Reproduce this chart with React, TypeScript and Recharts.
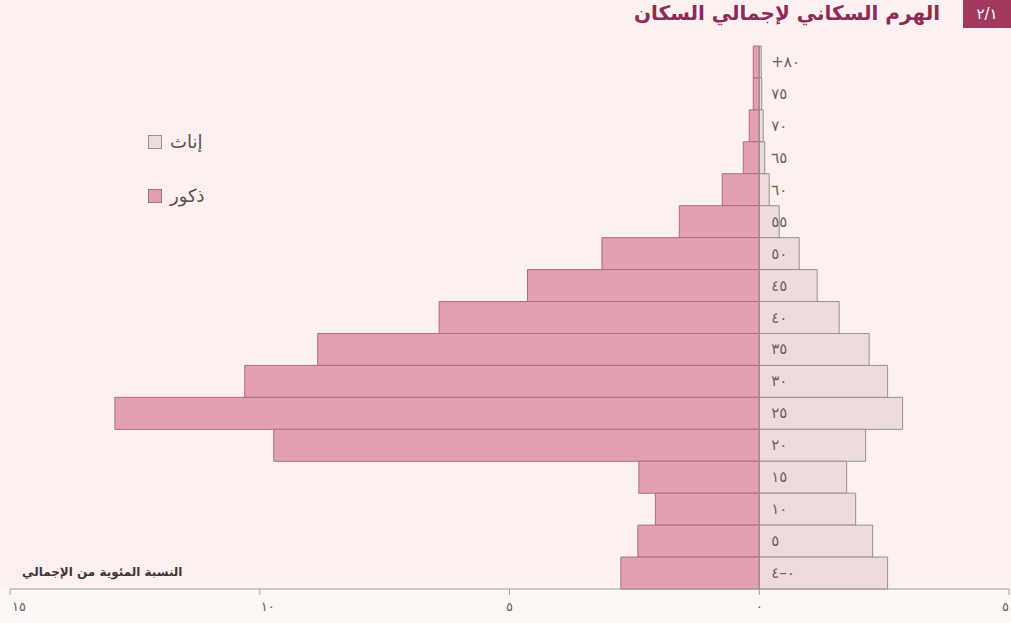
import React from "react";
import {
  BarChart,
  Bar,
  XAxis,
  YAxis,
  ReferenceLine,
  LabelList,
} from "recharts";

// age groups, top of pyramid first
const ageGroups = [
  "+٨٠", "٧٥", "٧٠", "٦٥", "٦٠", "٥٥", "٥٠", "٤٥", "٤٠",
  "٣٥", "٣٠", "٢٥", "٢٠", "١٥", "١٠", "٥", "٠–٤",
];

// percent of total population
const males = [
  0.12, 0.12, 0.2, 0.32, 0.74, 1.6, 3.15, 4.64, 6.41,
  8.84, 10.3, 12.9, 9.72, 2.41, 2.08, 2.43, 2.77,
];
const females = [
  0.04, 0.05, 0.08, 0.11, 0.2, 0.4, 0.8, 1.16, 1.6,
  2.2, 2.57, 2.87, 2.13, 1.75, 1.93, 2.27, 2.57,
];

const xTicks = [-15, -10, -5, 0, 5];
const xTickLabels = ["١٥", "١٠", "٥", "٠", "٥"];

const title = "الهرم السكاني لإجمالي السكان";
const figNo = "٢/١";
const axisNote = "النسبة المئوية من الإجمالي";
const femaleName = "إناث";
const maleName = "ذكور";

const MALE = "#e2a1b3";
const MALE_EDGE = "#b06a82";
const FEMALE = "#ecdddc";
const FEMALE_EDGE = "#9c8e8e";
const BG = "#fcf0f0";
const FONT = "'DejaVu Sans', sans-serif";

const data = ageGroups.map((age, i) => ({
  age,
  male: -males[i],
  female: females[i],
}));

const anchors = ["start", "start", "middle", "middle", "end"];

const XTick = (props: any) => {
  const { x, y, payload } = props;
  const idx = xTicks.indexOf(payload.value);
  const dx = idx === 0 ? 2 : idx === 1 ? 1 : 0;
  return (
    <text
      x={x + dx}
      y={y + 14}
      textAnchor={anchors[idx] as any}
      fontSize={13}
      fill="#6b5d5d"
      fontFamily={FONT}
    >
      {xTickLabels[idx]}
    </text>
  );
};

const AgeLabel = (props: any) => {
  const { x, y, height, value } = props;
  return (
    <text
      x={x + 12}
      y={y + height / 2 + 5}
      fontSize={15}
      fill="#6e6060"
      fontFamily={FONT}
    >
      {value}
    </text>
  );
};

const swatch = (fill: string, edge: string) => (
  <span
    style={{
      width: 12,
      height: 12,
      background: fill,
      border: `1px solid ${edge}`,
    }}
  />
);

export default function App() {
  return (
    <div
      style={{
        position: "absolute",
        left: 0,
        top: 0,
        width: 1011,
        height: 623,
        background: BG,
        overflow: "hidden",
      }}
    >
      <style>{`body{margin:0}`}</style>

      <div
        style={{
          position: "absolute",
          left: 0,
          top: 589,
          width: 1011,
          height: 34,
          background: "#fdf7f6",
        }}
      />

      <BarChart
        width={1011}
        height={623}
        data={data}
        layout="vertical"
        stackOffset="sign"
        barCategoryGap={0}
        margin={{ top: 46, right: 2, bottom: 4, left: 10 }}
        style={{ position: "absolute", left: 0, top: 0 }}
      >
        <XAxis
          type="number"
          domain={[-15, 5]}
          ticks={xTicks}
          interval={0}
          height={30}
          axisLine={{ stroke: "#a89c9c" }}
          tickLine={{ stroke: "#a89c9c" }}
          tickSize={6}
          tick={<XTick />}
        />
        <YAxis type="category" dataKey="age" hide />
        <Bar
          dataKey="male"
          stackId="p"
          fill={MALE}
          stroke={MALE_EDGE}
          strokeWidth={1}
          isAnimationActive={false}
        />
        <Bar
          dataKey="female"
          stackId="p"
          fill={FEMALE}
          stroke={FEMALE_EDGE}
          strokeWidth={1}
          isAnimationActive={false}
        >
          <LabelList dataKey="age" content={<AgeLabel />} />
        </Bar>
        <ReferenceLine x={0} stroke="#9a8c8c" strokeWidth={1} />
      </BarChart>

      <div
        style={{
          position: "absolute",
          right: 71,
          top: 1,
          fontFamily: FONT,
          fontWeight: "bold",
          fontSize: 20,
          color: "#8d2b55",
          direction: "rtl",
        }}
      >
        {title}
      </div>
      <div
        style={{
          position: "absolute",
          right: 0,
          top: 0,
          width: 48,
          height: 28,
          background: "#a3385f",
          color: "#fff",
          fontFamily: FONT,
          fontSize: 15,
          display: "flex",
          alignItems: "center",
          justifyContent: "center",
        }}
      >
        {figNo}
      </div>
      <div
        style={{
          position: "absolute",
          left: 22,
          top: 565,
          fontFamily: FONT,
          fontWeight: "bold",
          fontSize: 12,
          color: "#3f3535",
          direction: "rtl",
        }}
      >
        {axisNote}
      </div>
      <div
        style={{
          position: "absolute",
          left: 148,
          top: 131,
          fontFamily: FONT,
          fontSize: 18,
          color: "#5d4f4f",
        }}
      >
        <div style={{ display: "flex", alignItems: "center", gap: 8 }}>
          {swatch(FEMALE, FEMALE_EDGE)}
          <span>{femaleName}</span>
        </div>
        <div
          style={{ display: "flex", alignItems: "center", gap: 8, marginTop: 33 }}
        >
          {swatch(MALE, MALE_EDGE)}
          <span>{maleName}</span>
        </div>
      </div>
    </div>
  );
}
